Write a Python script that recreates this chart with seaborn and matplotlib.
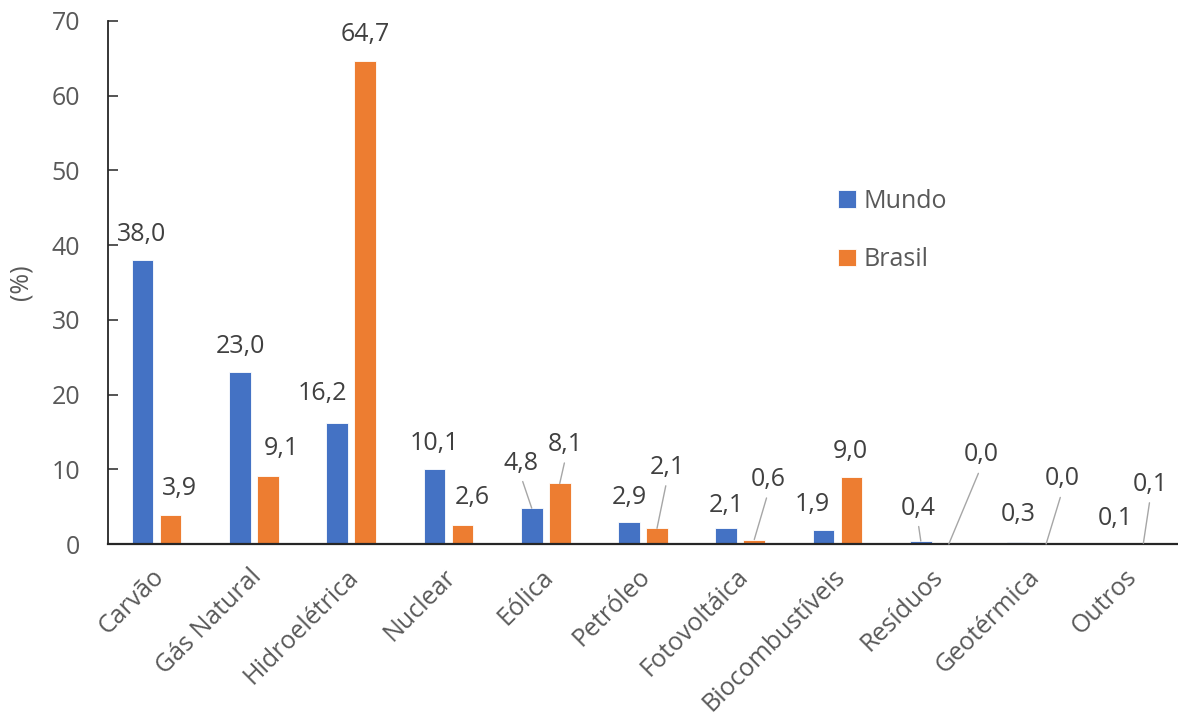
import matplotlib
matplotlib.use("Agg")
import matplotlib.pyplot as plt
import matplotlib.transforms as mtransforms
import seaborn as sns
import pandas as pd

# Participação de cada fonte na geração de eletricidade (%)
fontes = ["Carvão", "Gás Natural", "Hidroelétrica", "Nuclear", "Eólica",
          "Petróleo", "Fotovoltáica", "Biocombustíveis", "Resíduos",
          "Geotérmica", "Outros"]
mundo = [38.0, 23.0, 16.2, 10.1, 4.8, 2.9, 2.1, 1.9, 0.4, 0.3, 0.1]
brasil = [3.9, 9.1, 64.7, 2.6, 8.1, 2.1, 0.6, 9.0, 0.0, 0.0, 0.1]
series = ["Mundo", "Brasil"]
yticks = [0, 10, 20, 30, 40, 50, 60, 70]

# deslocamento (px) do rótulo em relação ao topo da barra e uso de linha guia
desloc_mundo = [(-1, 28), (1, 28), (-15, 31), (0, 27), (-11, 47), (0, 27),
                (0, 25), (-11, 27), (-3, 35), (0, 29), (0, 27)]
guia_mundo = [False, False, False, False, True, False, False, False, True,
              False, False]
desloc_brasil = [(9, 28), (13, 30), (0, 28), (10, 29), (6, 41), (10, 63),
                 (14, 62), (-1, 27), (32, 91), (16, 67), (7, 61)]
guia_brasil = [False, False, False, False, True, True, True, False, True,
               True, True]

AZUL = "#4472C4"
LARANJA = "#ED7D31"
CINZA_TXT = "#595959"
CINZA_ROT = "#404040"

df = pd.DataFrame({
    "Fonte": fontes * 2,
    "Série": [series[0]] * len(fontes) + [series[1]] * len(fontes),
    "Valor": mundo + brasil,
})

sns.set_theme(style="white")
plt.rcParams["font.family"] = ["Open Sans", "DejaVu Sans"]

fig = plt.figure(figsize=(11.78, 7.22), dpi=100)
ax = fig.add_axes([108 / 1178, 1 - 544 / 722, 1 - 108 / 1178, (544 - 21) / 722])

sns.barplot(data=df, x="Fonte", y="Valor", hue="Série", order=fontes,
            hue_order=series, palette=[AZUL, LARANJA], saturation=1,
            width=0.576, gap=0.23, edgecolor="white", linewidth=0.6,
            errorbar=None, ax=ax)

ax.set_ylim(0, 70)
ax.set_yticks(yticks)
ax.set_yticklabels([str(t) for t in yticks])
ax.set_xlim(-0.5, len(fontes) - 0.5)

for s in ["top", "right"]:
    ax.spines[s].set_visible(False)
ax.spines["left"].set_color("#262626")
ax.spines["left"].set_linewidth(1.3)
ax.spines["bottom"].set_color("#262626")
ax.spines["bottom"].set_linewidth(1.6)

ax.tick_params(axis="y", direction="in", length=7.2, width=1.1, color="#262626",
               labelsize=18, labelcolor=CINZA_TXT, pad=20, left=True)
ax.tick_params(axis="x", length=0, labelsize=18, labelcolor=CINZA_TXT, pad=21)
desloc_x = mtransforms.ScaledTranslation(4 / 100, 0, fig.dpi_scale_trans)
for lbl in ax.get_xticklabels():
    lbl.set_rotation(45)
    lbl.set_ha("right")
    lbl.set_va("center")
    lbl.set_rotation_mode("anchor")
    lbl.set_transform(lbl.get_transform() + desloc_x)

ax.set_xlabel("")
ax.set_ylabel("(%)", fontsize=18, color=CINZA_TXT)
ax.yaxis.label.set_va("center")
ax.yaxis.set_label_coords((22 - 108) / 1060, 0.5)

# rótulos de dados com vírgula decimal
for cont, valores, desloc, guias in zip(ax.containers, [mundo, brasil],
                                        [desloc_mundo, desloc_brasil],
                                        [guia_mundo, guia_brasil]):
    for barra, v, (dx, dy), guia in zip(cont, valores, desloc, guias):
        xc = barra.get_x() + barra.get_width() / 2
        texto = f"{v:.1f}".replace(".", ",")
        props = None
        if guia:
            props = dict(arrowstyle="-", color="#A6A6A6", lw=1.0,
                         shrinkA=2, shrinkB=0, relpos=(0.5, 0.0))
        ax.annotate(texto, xy=(xc, v), xytext=(dx, dy - 2),
                    textcoords="offset pixels", ha="center", va="center",
                    fontsize=18, color=CINZA_ROT, arrowprops=props,
                    annotation_clip=False)

leg = ax.legend(loc="center left", bbox_to_anchor=(838 / 1178, 1 - 230.5 / 722),
                bbox_transform=fig.transFigure, frameon=False, fontsize=18,
                handlelength=0.7, handleheight=0.7, handletextpad=0.3,
                labelspacing=1.35, borderpad=0, borderaxespad=0)
for t in leg.get_texts():
    t.set_color(CINZA_TXT)

fig.savefig("out.png", dpi=100)
